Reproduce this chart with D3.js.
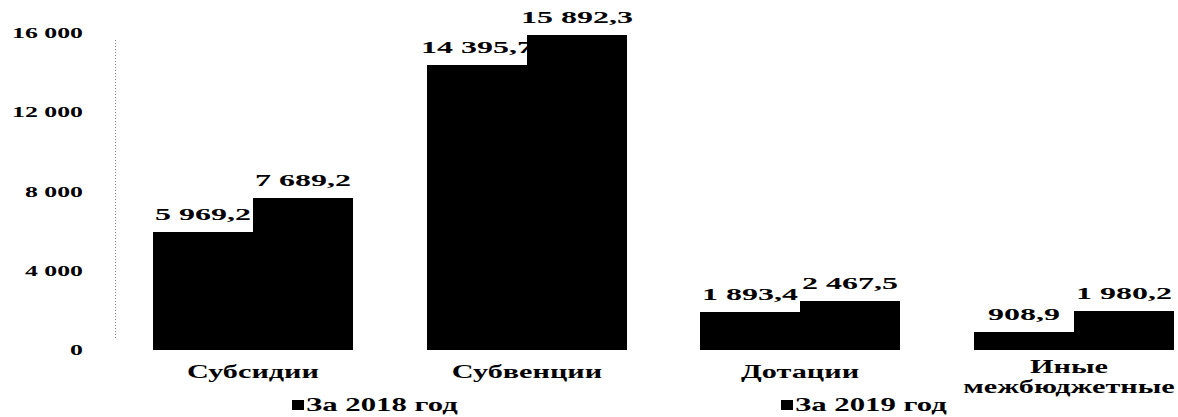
<!DOCTYPE html>
<html><head><meta charset="utf-8">
<script src="https://cdn.jsdelivr.net/npm/d3@7"></script>
<style>body{margin:0;background:#fff}</style>
</head><body><svg id="c" width="1178" height="417"></svg>
<script>
const categories = [["Субсидии"], ["Субвенции"], ["Дотации"], ["Иные", "межбюджетные"]];
const series = ["За 2018 год", "За 2019 год"];
const values2018 = [5969.2, 14395.7, 1893.4, 908.9];
const values2019 = [7689.2, 15892.3, 2467.5, 1980.2];
const yTicks = [0, 4000, 8000, 12000, 16000];

const svg = d3.select("#c");
const fmt = v => { const s = v.toFixed(1).replace(".", ","); const [i, d] = s.split(","); return i.replace(/\B(?=(\d{3})+(?!\d))/g, " ") + "," + d; };
const fmtT = v => String(v).replace(/\B(?=(\d{3})+(?!\d))/g, " ");

const y = d3.scaleLinear().domain([0, 16000]).range([350, 33]);
const x0 = d3.scaleBand().domain(d3.range(categories.length)).range([116, 1211]).paddingInner(0).paddingOuter(0);
const x1 = d3.scaleBand().domain([0, 1]).range([0, 200]);
const bandOff = (x0.bandwidth() - 200) / 2;

function stext(g, x, yy, txt, size, sx, anchor) {
  return g.append("text").attr("transform", `translate(${x},${yy}) scale(${sx},1)`)
    .attr("text-anchor", anchor || "middle")
    .attr("font-family", "Liberation Serif")
    .attr("font-weight", "bold").attr("font-size", size).attr("fill", "#000").text(txt);
}

// axis dotted line
svg.append("line").attr("x1", 115.5).attr("x2", 115.5).attr("y1", 40).attr("y2", 340)
  .attr("stroke", "#888").attr("stroke-dasharray", "1,2").attr("stroke-width", 1);
yTicks.forEach(t => stext(svg, 83, y(t) + 5, fmtT(t), 15, 1.72, "end"));

const data = categories.map((c, i) => ({ i, vals: [values2018[i], values2019[i]] }));
const g = svg.selectAll("g.cat").data(data).enter().append("g").attr("transform", d => `translate(${Math.round(x0(d.i) + bandOff)},0)`);
g.selectAll("rect").data(d => d.vals).enter().append("rect")
  .attr("shape-rendering", "crispEdges")
  .attr("x", (v, j) => x1(j)).attr("width", (v, j) => x1.bandwidth() + (j === 0 ? 1 : 0))
  .attr("y", v => y(v)).attr("height", v => y(0) - y(v)).attr("fill", "#000");
g.each(function (d) {
  const gg = d3.select(this);
  d.vals.forEach((v, j) => stext(gg, x1(j) + x1.bandwidth() / 2, y(v) - 12, fmt(v), 16, 2.0));
  const lines = categories[d.i];
  lines.forEach((line, k) => stext(gg, 100 - (lines.length > 1 ? 5 : 0), (lines.length > 1 ? 373 : 378) + k * 20, line, 18, 1.68));
});

// legend
const lx = [292, 781];
series.forEach((s, j) => {
  svg.append("rect").attr("x", lx[j]).attr("y", 400).attr("width", 12).attr("height", 10).attr("fill", "#000");
  stext(svg, lx[j] + 14, 411, s, 19, 1.62, "start");
});
</script></body></html>
